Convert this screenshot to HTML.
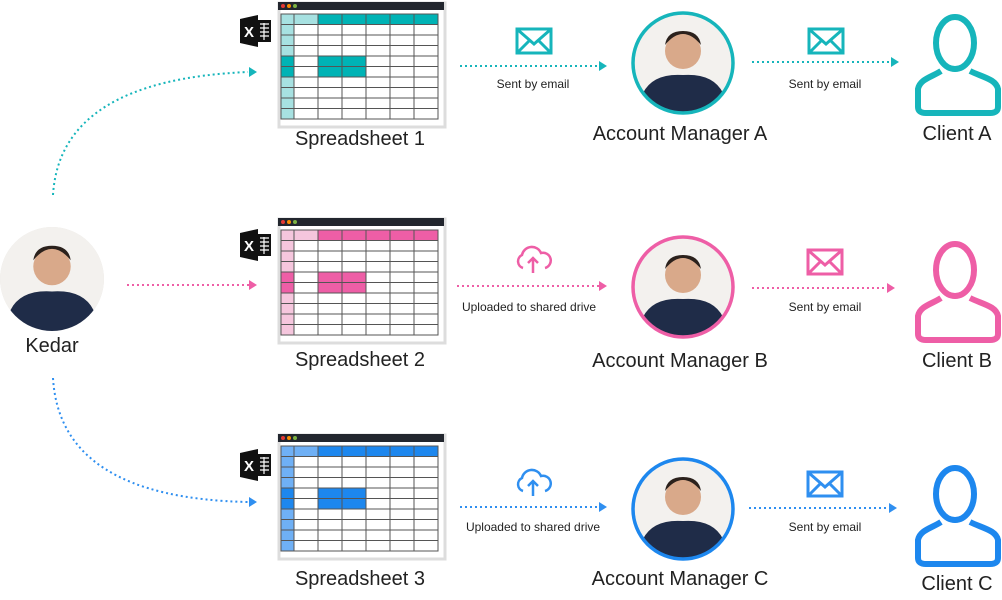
<!DOCTYPE html>
<html><head><meta charset="utf-8"><style>
html,body{margin:0;padding:0;background:#fff;}
svg{display:block;font-family:"Liberation Sans",sans-serif;}
.lbl{font-size:20px;fill:#222;text-anchor:middle;}
.sm{font-size:12px;fill:#222;text-anchor:middle;}
</style></head><body>
<svg width="1002" height="600" viewBox="0 0 1002 600" xmlns="http://www.w3.org/2000/svg">
<defs>
<g id="grid">
  <rect x="0" y="0" width="166" height="124" fill="#fff"/>
  <rect x="0" y="0" width="166" height="124" fill="none" stroke="#ddd" stroke-width="3" transform="translate(1,1)"/>
  <rect x="0" y="0" width="166" height="8" fill="#22262e"/>
  <circle cx="5" cy="4" r="2" fill="#e53935"/><circle cx="11" cy="4" r="2" fill="#fb8c00"/><circle cx="17" cy="4" r="2" fill="#7cb342"/>
</g>
<g id="lines" stroke="#555" stroke-width="1" fill="none">
  <rect x="3" y="12" width="157" height="105"/>
  <path d="M16 12V117M40 12V117M64 12V117M88 12V117M112 12V117M136 12V117"/>
  <path d="M3 22.5H160M3 33H160M3 43.5H160M3 54H160M3 64.5H160M3 75H160M3 85.5H160M3 96H160M3 106.5H160"/>
</g>
<g id="xl">
  <path d="M0 5 L18 1 L18 33 L0 29Z" fill="#111"/>
  <rect x="18" y="6" width="13" height="22" fill="#111"/>
  <path d="M20 10h9M20 14h9M20 18h9M20 22h9M24 9v17" stroke="#fff" stroke-width="1.2"/>
  <text x="9" y="23" font-size="15" font-weight="bold" fill="#fff" text-anchor="middle">X</text>
</g>
<g id="env"><rect x="0" y="0" width="34" height="24" fill="none" stroke="currentColor" stroke-width="3"/><path d="M1 1L17 15L33 1M1 23L12 12M33 23L22 12" fill="none" stroke="currentColor" stroke-width="3"/></g>
<g id="cloud"><path d="M7 22 A7 7 0 0 1 6 9 A10 10 0 0 1 25 7 A7 7 0 0 1 29 22" fill="none" stroke="currentColor" stroke-width="2.5"/><path d="M17 27V12M12 17L17 12L22 17" fill="none" stroke="currentColor" stroke-width="2.5"/></g>
<g id="client"><ellipse cx="43" cy="36" rx="19" ry="26" fill="none" stroke="currentColor" stroke-width="6"/><path d="M29 64 C20 70 8 72 6 82 L6 100 Q6 106 14 106 L78 106 Q86 106 86 100 L86 82 C84 72 70 70 58 64" fill="none" stroke="currentColor" stroke-width="6" stroke-linejoin="round"/></g>
<g id="face"><circle r="50" fill="#f3f1ee"/><circle cx="0" cy="-12" r="18" fill="#d9a98a"/><path d="M-18 -18 Q0 -40 18 -18 Q16 -32 0 -32 Q-16 -32 -18 -18Z" fill="#2b211c"/><path d="M-40 30 Q-30 10 0 12 Q30 10 40 30 L40 50 L-40 50Z" fill="#1f2c48"/></g>
<clipPath id="c1"><circle r="50"/></clipPath>
</defs>

<g transform="translate(52,279)"><circle r="52" fill="#e9e6e1"/><g clip-path="url(#c1)" transform="scale(1.04)"><use href="#face"/></g></g>
<text class="lbl" x="52" y="352">Kedar</text>

<path d="M53 195 Q60 80 248 72" fill="none" stroke="#16b5bb" stroke-width="2" stroke-dasharray="2 3"/>
<path d="M249 67 L257 72 L249 77Z" fill="#16b5bb"/>
<path d="M127 285 H249" stroke="#ee5ea6" stroke-width="2" stroke-dasharray="2 3"/>
<path d="M249 280 L257 285 L249 290Z" fill="#ee5ea6"/>
<path d="M53 378 Q60 498 248 502" fill="none" stroke="#2f8ff0" stroke-width="2" stroke-dasharray="2 3"/>
<path d="M249 497 L257 502 L249 507Z" fill="#2f8ff0"/>

<g transform="translate(278,2)">
<use href="#grid"/>
<rect x="3" y="12" width="13" height="105" fill="#a7e1e1"/>
<rect x="16" y="12" width="24" height="10.5" fill="#a7e1e1"/>
<rect x="40" y="12" width="120" height="10.5" fill="#00b3b5"/>
<rect x="3" y="54" width="13" height="21" fill="#00b3b5"/>
<rect x="40" y="54" width="48" height="21" fill="#00b3b5"/>
<use href="#lines"/></g>
<use href="#xl" transform="translate(240,14)"/>
<text class="lbl" x="360" y="145">Spreadsheet 1</text>

<g transform="translate(278,218)">
<use href="#grid"/>
<rect x="3" y="12" width="13" height="105" fill="#f5c6dd"/>
<rect x="16" y="12" width="24" height="10.5" fill="#f5c6dd"/>
<rect x="40" y="12" width="120" height="10.5" fill="#ee5ea6"/>
<rect x="3" y="54" width="13" height="21" fill="#ee5ea6"/>
<rect x="40" y="54" width="48" height="21" fill="#ee5ea6"/>
<use href="#lines"/></g>
<use href="#xl" transform="translate(240,228)"/>
<text class="lbl" x="360" y="366">Spreadsheet 2</text>

<g transform="translate(278,434)">
<use href="#grid"/>
<rect x="3" y="12" width="13" height="105" fill="#6fb0f5"/>
<rect x="16" y="12" width="24" height="10.5" fill="#6fb0f5"/>
<rect x="40" y="12" width="120" height="10.5" fill="#1d87ee"/>
<rect x="3" y="54" width="13" height="21" fill="#1d87ee"/>
<rect x="40" y="54" width="48" height="21" fill="#1d87ee"/>
<use href="#lines"/></g>
<use href="#xl" transform="translate(240,448)"/>
<text class="lbl" x="360" y="585">Spreadsheet 3</text>

<g style="color:#16b5bb"><use href="#env" transform="translate(517,29)"/></g>
<path d="M460 66 H599" stroke="#16b5bb" stroke-width="2" stroke-dasharray="2 3"/><path d="M599 61 L607 66 L599 71Z" fill="#16b5bb"/>
<text class="sm" x="533" y="88">Sent by email</text>

<g style="color:#ee5ea6"><use href="#cloud" transform="translate(516,246)"/></g>
<path d="M457 286 H599" stroke="#ee5ea6" stroke-width="2" stroke-dasharray="2 3"/><path d="M599 281 L607 286 L599 291Z" fill="#ee5ea6"/>
<text class="sm" x="529" y="311">Uploaded to shared drive</text>

<g style="color:#2f8ff0"><use href="#cloud" transform="translate(516,469)"/></g>
<path d="M460 507 H599" stroke="#2f8ff0" stroke-width="2" stroke-dasharray="2 3"/><path d="M599 502 L607 507 L599 512Z" fill="#2f8ff0"/>
<text class="sm" x="533" y="531">Uploaded to shared drive</text>

<g transform="translate(683,63)"><g clip-path="url(#c1)"><use href="#face"/></g><circle r="50" fill="none" stroke="#16b5bb" stroke-width="3.5"/></g>
<text class="lbl" x="680" y="140">Account Manager A</text>
<g transform="translate(683,287)"><g clip-path="url(#c1)"><use href="#face"/></g><circle r="50" fill="none" stroke="#ee5ea6" stroke-width="3.5"/></g>
<text class="lbl" x="680" y="367">Account Manager B</text>
<g transform="translate(683,509)"><g clip-path="url(#c1)"><use href="#face"/></g><circle r="50" fill="none" stroke="#1d87ee" stroke-width="3.5"/></g>
<text class="lbl" x="680" y="585">Account Manager C</text>

<g style="color:#16b5bb"><use href="#env" transform="translate(809,29)"/></g>
<path d="M752 62 H891" stroke="#16b5bb" stroke-width="2" stroke-dasharray="2 3"/><path d="M891 57 L899 62 L891 67Z" fill="#16b5bb"/>
<text class="sm" x="825" y="88">Sent by email</text>
<g style="color:#ee5ea6"><use href="#env" transform="translate(808,250)"/></g>
<path d="M752 288 H887" stroke="#ee5ea6" stroke-width="2" stroke-dasharray="2 3"/><path d="M887 283 L895 288 L887 293Z" fill="#ee5ea6"/>
<text class="sm" x="825" y="311">Sent by email</text>
<g style="color:#2f8ff0"><use href="#env" transform="translate(808,472)"/></g>
<path d="M749 508 H889" stroke="#2f8ff0" stroke-width="2" stroke-dasharray="2 3"/><path d="M889 503 L897 508 L889 513Z" fill="#2f8ff0"/>
<text class="sm" x="825" y="531">Sent by email</text>

<g style="color:#16b5bb"><use href="#client" transform="translate(912,7)"/></g>
<text class="lbl" x="957" y="140">Client A</text>
<g style="color:#ee5ea6"><use href="#client" transform="translate(912,234)"/></g>
<text class="lbl" x="957" y="367">Client B</text>
<g style="color:#1d87ee"><use href="#client" transform="translate(912,458)"/></g>
<text class="lbl" x="957" y="590">Client C</text>
</svg>
</body></html>
